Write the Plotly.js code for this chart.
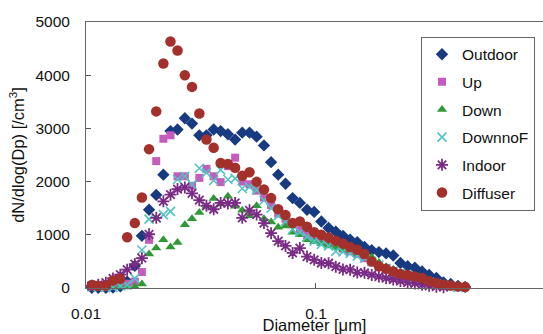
<!DOCTYPE html>
<html>
<head>
<meta charset="utf-8">
<script src="https://cdn.plot.ly/plotly-3.0.1.min.js"></script>
<style>
  html, body { margin: 0; padding: 0; background: #fff; }
  #chart { width: 543px; height: 334px; }
</style>
</head>
<body>
<div id="chart"></div>
<script>
// Particle diameter bins [µm]
const diameter = [0.0106, 0.0113, 0.0122, 0.0131, 0.0141, 0.0151, 0.0163, 0.0175, 0.0188, 0.0202,
  0.0217, 0.0233, 0.0250, 0.0269, 0.0289, 0.0311, 0.0334, 0.0359, 0.0385, 0.0414,
  0.0445, 0.0478, 0.0514, 0.0552, 0.0594, 0.0638, 0.0685, 0.0737, 0.0791, 0.0851,
  0.0914, 0.0982, 0.1055, 0.1134, 0.1219, 0.1310, 0.1407, 0.1512, 0.1625, 0.1747,
  0.1877, 0.2017, 0.2167, 0.2329, 0.2503, 0.2690, 0.2890, 0.3106, 0.3338, 0.3587,
  0.3854, 0.4142, 0.4451];

// dN/dlog(Dp) [/cm3] for each sampling point
const outdoor = [5, 5, 5, 10, 30, 120, 415, 980, 1470, 1750,
  2130, 2950, 2980, 3190, 3090, 2870, 2870, 2980, 2950, 2890,
  2790, 2920, 2920, 2845, 2680, 2365, 2130, 1960, 1690, 1600,
  1470, 1430, 1250, 1130, 1060, 980, 910, 860, 770, 710,
  675, 650, 610, 470, 410, 380, 310, 245, 190, 105,
  75, 40, 20];

const up = [30, 20, 20, 40, 60, 80, 120, 300, 905, 2385,
  2805, 2870, 2100, 2100, 1920, 2070, 2240, 2100, 1990, 2290,
  2450, 2000, 1950, 1830, 1700, 1560, 1400, 1300, 1200, 1080,
  1000, 950, 900, 860, 800, 740, 690, 640, 560, 480,
  400, 350, 300, 250, 220, 180, 150, 110, 80, 50,
  30, 15, null];

const down = [20, 15, 15, 20, 20, 20, 25, 75, 640, 750,
  905, 770, 855, 1190, 1300, 1420, 1535, 1680, 1580, 1725,
  1535, 1460, 1360, 1545, 1300, 1240, 1140, 1165, 1050, 1000,
  905, 875, 830, 790, 760, 730, 700, 650, 600, 580,
  480, 400, 350, 290, 240, 200, 160, 110, 70, 40,
  20, 10, null];

const downNoF = [20, 20, 10, 10, 40, 60, 180, 715, 1295, 1315,
  1380, 1440, 2040, 2100, 1950, 2250, 2170, 2020, 2220, 2040,
  2060, 1870, 1900, 1840, 1650, 1500, 1360, 1250, 1100, 1050,
  960, 880, 820, 790, 690, 680, 650, 600, 560, 500,
  430, 370, 320, 270, 230, 190, 150, 110, 75, 45,
  25, 10, null];

const indoor = [40, 60, 100, 180, 250, 345, 450, 560, 1010, 1320,
  1630, 1755, 1860, 1890, 1780, 1650, 1545, 1480, 1600, 1590,
  1600, 1320, 1460, 1380, 1220, 1030, 880, 790, 660, 750,
  590, 530, 470, 465, 400, 350, 345, 290, 285, 245,
  215, 185, 160, 130, 100, 85, 60, 40, 25, 15,
  null, null, null];

const diffuser = [55, 40, 45, 140, 175, 955, 1220, 1700, 2610, 3320,
  4220, 4635, 4465, 4000, 3780, 3280, 2790, 2635, 2350, 2330,
  2260, 2110, 2175, 1995, 1850, 1690, 1480, 1370, 1220, 1250,
  1150, 1050, 1000, 950, 890, 835, 770, 720, 640, 500,
  410, 360, 310, 265, 245, 215, 190, 130, 95, 65,
  45, 30, 20];

const seriesNames = ['Outdoor', 'Up', 'Down', 'DownnoF', 'Indoor', 'Diffuser'];
const seriesData = [outdoor, up, down, downNoF, indoor, diffuser];
const seriesMarkers = [
  {symbol: 'diamond', size: 9.5, color: '#173a80'},
  {symbol: 'square', size: 8, color: '#c45cbc'},
  {symbol: 'triangle-up', size: 9, color: '#2f9a35'},
  {symbol: 'x-thin-open', size: 9, color: '#52c2c4', line: {width: 1.6, color: '#52c2c4'}},
  {symbol: 'asterisk-open', size: 10, color: '#7a2b86', line: {width: 1.8, color: '#7a2b86'}},
  {symbol: 'circle', size: 10.5, color: '#a3302a'}
];

const FONT = '"Liberation Sans", Arial, sans-serif';

const traces = seriesNames.map((name, i) => ({
  type: 'scatter',
  mode: 'markers',
  name: name,
  legendgroup: name,
  x: diameter,
  y: seriesData[i],
  marker: seriesMarkers[i],
  cliponaxis: false
}));

const layout = {
  width: 543,
  height: 334,
  margin: {l: 86, r: 0, t: 22, b: 46},
  paper_bgcolor: '#ffffff',
  plot_bgcolor: '#ffffff',
  font: {family: FONT, size: 15.5, color: '#111'},
  showlegend: true,
  legend: {
    x: 0.9825, xanchor: 'right',
    y: 0.945, yanchor: 'top',
    bgcolor: '#ffffff',
    bordercolor: '#666',
    borderwidth: 1,
    font: {family: FONT, size: 15.5, color: '#111'},
    tracegroupgap: 4.5,
    itemwidth: 30
  },
  xaxis: {
    type: 'log',
    range: [-2, -0.013],
    tickvals: [0.01, 0.1, 1],
    ticktext: ['0.01', '0.1', '1'],
    ticks: 'inside',
    ticklen: 5,
    tickcolor: '#555',
    showgrid: false,
    zeroline: false,
    showline: true,
    linecolor: '#666',
    linewidth: 1,
    mirror: true,
    ticklabelstandoff: 11,
    tickfont: {family: FONT, size: 15.5, color: '#111'},
    title: {text: 'Diameter [μm]', standoff: 0, font: {family: FONT, size: 16.5, color: '#111'}}
  },
  yaxis: {
    range: [0, 5000],
    tickvals: [0, 1000, 2000, 3000, 4000, 5000],
    ticks: 'inside',
    ticklen: 5,
    tickcolor: '#555',
    showgrid: false,
    zeroline: false,
    showline: true,
    linecolor: '#666',
    linewidth: 1,
    ticklabelstandoff: 12,
    tickfont: {family: FONT, size: 15.5, color: '#111'},
    title: {text: 'dN/dlog(Dp) [/cm<sup>3</sup>]', standoff: 6, font: {family: FONT, size: 16.5, color: '#111'}}
  }
};

Plotly.newPlot('chart', traces, layout, {displayModeBar: false, staticPlot: true});
</script>
</body>
</html>
